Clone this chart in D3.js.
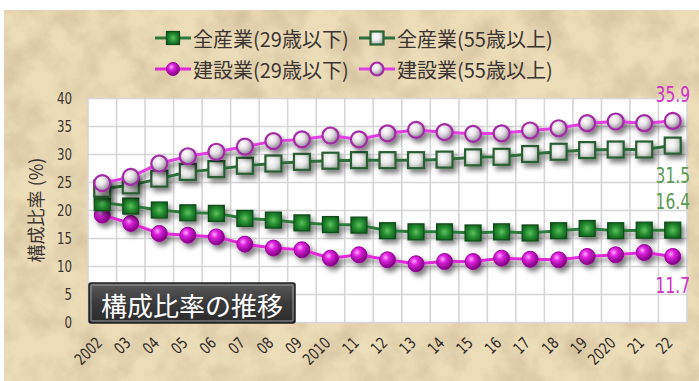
<!DOCTYPE html>
<html><head><meta charset="utf-8">
<script src="https://cdn.jsdelivr.net/npm/d3@7"></script>
<style>
html,body{margin:0;padding:0;background:#fff;}
svg{display:block;}
</style></head>
<body>
<svg id="chart" width="699" height="381"></svg>
<script>
// ---- data ----
const years = ["2002","03","04","05","06","07","08","09","2010","11","12","13","14","15","16","17","18","19","2020","21","22"];
const allInd29 = [21.3,20.7,20.0,19.5,19.4,18.5,18.2,17.7,17.4,17.3,16.3,16.1,16.1,15.9,16.1,15.9,16.3,16.7,16.3,16.4,16.4];
const allInd55 = [23.8,24.4,25.6,26.8,27.3,27.9,28.3,28.6,28.8,28.9,28.9,28.9,29.0,29.4,29.5,30.0,30.4,30.7,30.8,30.8,31.5];
const cons29   = [19.1,17.6,15.8,15.5,15.2,13.9,13.2,12.9,11.4,12.0,11.1,10.4,10.8,10.8,11.4,11.2,11.1,11.7,12.0,12.4,11.7];
const cons55   = [24.8,25.9,28.3,29.6,30.4,31.3,32.3,32.6,33.3,32.6,33.7,34.3,33.9,33.6,33.7,34.2,34.6,35.5,35.8,35.5,35.9];
const seriesNames = ["全産業(29歳以下)","全産業(55歳以上)","建設業(29歳以下)","建設業(55歳以上)"];
const yTicks = [0,5,10,15,20,25,30,35,40];
const yTitle = "構成比率 (%)";
const chartTitle = "構成比率の推移";

const svg = d3.select("#chart");
const W = 699, H = 381;
const plot = {left: 88, right: 687, top: 98, bottom: 322};
const cjk = "'Noto Sans CJK JP','Noto Sans',sans-serif";
const narrow = "'Liberation Sans Narrow','DejaVu Sans Condensed','Liberation Sans',sans-serif";

const defs = svg.append("defs");
// paper texture
const pf = defs.append("filter").attr("id","paper").attr("x",0).attr("y",0).attr("width","100%").attr("height","100%");
pf.append("feTurbulence").attr("type","fractalNoise").attr("baseFrequency","0.03").attr("numOctaves",5).attr("seed",7).attr("result","n");
pf.append("feColorMatrix").attr("in","n").attr("type","matrix")
  .attr("values","0 0 0 0 0.58  0 0 0 0 0.45  0 0 0 0 0.28  2.0 0 0 0 -0.75");
// drop shadow
const ds = defs.append("filter").attr("id","shadow").attr("x","-20%").attr("y","-20%").attr("width","140%").attr("height","160%");
ds.append("feDropShadow").attr("dx",3).attr("dy",4).attr("stdDeviation",2.4).attr("flood-color","#000").attr("flood-opacity",0.5);

function radial(id, stops, cx="38%", cy="35%", r="65%") {
  const g = defs.append("radialGradient").attr("id",id).attr("cx",cx).attr("cy",cy).attr("r",r);
  stops.forEach(s => g.append("stop").attr("offset",s[0]).attr("stop-color",s[1]));
}
radial("gMag", [["0%","#ffa8ff"],["35%","#e022e0"],["100%","#7a007a"]]);
radial("gMagL", [["0%","#ffffff"],["45%","#e6e0e6"],["100%","#8f8595"]]);
radial("gGrn", [["0%","#5fc060"],["45%","#238a30"],["100%","#0b4a16"]], "50%","50%","70%");
radial("gGrnL", [["0%","#ffffff"],["50%","#e4e6e4"],["100%","#9aa09a"]], "40%","40%","70%");
const tg = defs.append("linearGradient").attr("id","gTitle").attr("x1",0).attr("y1",0).attr("x2",0).attr("y2",1);
tg.append("stop").attr("offset","0%").attr("stop-color","#5a5a5a");
tg.append("stop").attr("offset","50%").attr("stop-color","#3a3a3a");
tg.append("stop").attr("offset","100%").attr("stop-color","#2a2a2a");

// background
svg.append("rect").attr("width",W).attr("height",H).attr("fill","#fff");
svg.append("rect").attr("x",4).attr("y",10).attr("width",W-4).attr("height",H-10).attr("fill","#ecdcb8");
svg.append("rect").attr("x",4).attr("y",10).attr("width",W-4).attr("height",H-10).attr("filter","url(#paper)").attr("opacity",0.6);

// scales
const x = d3.scaleBand().domain(years).range([plot.left, plot.right]).padding(0);
const y = d3.scaleLinear().domain([0,40]).range([plot.bottom, plot.top]);
const cx = d => x(d) + x.bandwidth()/2;

// plot area
svg.append("rect").attr("x",plot.left).attr("y",plot.top).attr("width",plot.right-plot.left).attr("height",plot.bottom-plot.top).attr("fill","#fff");
// vertical grid at band edges
const edges = years.map(d => x(d)).concat([plot.right]);
svg.append("g").selectAll("line").data(edges).join("line")
  .attr("x1",d=>d).attr("x2",d=>d).attr("y1",plot.top).attr("y2",plot.bottom)
  .attr("stroke","#d6d6d6").attr("stroke-width",1.6);
// horizontal grid
svg.append("g").attr("transform",`translate(${plot.left},0)`)
  .call(d3.axisLeft(y).tickValues(yTicks).tickSize(-(plot.right-plot.left)).tickFormat(""))
  .call(g => g.select(".domain").remove())
  .call(g => g.selectAll("line").attr("stroke","#d6d6d6").attr("stroke-width",1.6));

// y tick labels
svg.append("g").attr("transform",`translate(${plot.left},0)`)
  .call(d3.axisLeft(y).tickValues(yTicks).tickSize(0).tickPadding(16))
  .call(g => g.select(".domain").remove())
  .call(g => g.selectAll("text").attr("font-family",narrow).attr("font-size",16).attr("fill","#3a3530")
      .attr("x",0).attr("transform","translate(-16,0) scale(0.82,1)"));

// x tick labels
svg.append("g").attr("transform",`translate(0,${plot.bottom})`)
  .call(d3.axisBottom(x).tickSize(0))
  .call(g => g.select(".domain").remove())
  .call(g => g.selectAll("text")
     .attr("font-family",narrow).attr("font-size",16).attr("fill","#2f2a25")
     .attr("text-anchor","end").attr("x",0).attr("y",0).attr("dy",0)
     .attr("transform","translate(1,22) rotate(-45) scale(0.85,1)"));

// y title
svg.append("text").attr("transform","translate(43,210) rotate(-90)")
  .attr("text-anchor","middle").attr("font-family",cjk).attr("font-size",18).attr("fill","#3a3530")
  .text(yTitle);

// title box
const tb = svg.append("g");
tb.append("rect").attr("x",89).attr("y",283).attr("width",206).attr("height",40).attr("rx",2)
  .attr("fill","url(#gTitle)").attr("stroke","#222").attr("stroke-width",1.5);
tb.append("rect").attr("x",91).attr("y",285).attr("width",202).attr("height",36).attr("rx",1)
  .attr("fill","none").attr("stroke","#9a9a9a").attr("stroke-width",1);
tb.append("text").attr("x",192).attr("y",304).attr("text-anchor","middle").attr("dominant-baseline","central")
  .attr("font-family",cjk).attr("font-size",26).attr("fill","#fff").text(chartTitle);

// series definitions
const series = [
  {name: seriesNames[0], values: allInd29, line:"#2f7a3c", shape:"square", fill:"url(#gGrn)", stroke:"#0e4d1a", labOff:-28, labColor:"#5b9a55"},
  {name: seriesNames[1], values: allInd55, line:"#2f6e3c", shape:"square", fill:"url(#gGrnL)", stroke:"#2b5f34", labOff:30, labColor:"#5b9a55"},
  {name: seriesNames[2], values: cons29, line:"#e02ad8", shape:"circle", fill:"url(#gMag)", stroke:"#a000a0", labOff:29, labColor:"#d030c8"},
  {name: seriesNames[3], values: cons55, line:"#e040e0", shape:"circle", fill:"url(#gMagL)", stroke:"#a52aa5", labOff:-26, labColor:"#d030c8"}
];

function drawMarker(g, s, px, py, sz) {
  if (s.shape === "square") {
    g.append("rect").attr("x",px-sz/2).attr("y",py-sz/2).attr("width",sz).attr("height",sz)
      .attr("fill",s.fill).attr("stroke",s.stroke).attr("stroke-width",s.fill==="url(#gGrnL)"?2.2:1.2);
  } else {
    g.append("circle").attr("cx",px).attr("cy",py).attr("r",sz/2)
      .attr("fill",s.fill).attr("stroke",s.stroke).attr("stroke-width",s.fill==="url(#gMagL)"?2.2:1);
  }
}

const line = d3.line().x((d,i)=>cx(years[i])).y(d=>y(d));
const drawOrder = [2,0,1,3];
drawOrder.forEach(k => {
  const s = series[k];
  const g = svg.append("g").attr("filter","url(#shadow)");
  g.append("path").datum(s.values).attr("d",line).attr("fill","none")
    .attr("stroke",s.line).attr("stroke-width",3);
  s.values.forEach((v,i) => drawMarker(g, s, cx(years[i]), y(v), 16));
});

// end labels
series.forEach(s => {
  const v = s.values[s.values.length-1];
  svg.append("text").attr("transform",`translate(690,${y(v)+s.labOff}) scale(0.82,1)`)
    .attr("text-anchor","end").attr("dominant-baseline","central")
    .attr("font-family",narrow).attr("font-size",21).attr("fill",s.labColor)
    .text(d3.format(".1f")(v));
});

// legend
const legendPos = [[155,38],[359,38],[155,69],[359,69]];
series.forEach((s,i) => {
  const [lx,ly] = legendPos[i];
  const g = svg.append("g");
  g.append("line").attr("x1",lx).attr("x2",lx+36).attr("y1",ly).attr("y2",ly)
    .attr("stroke",s.line).attr("stroke-width",3);
  drawMarker(g, s, lx+18, ly, 13);
  g.append("text").attr("x",lx+38).attr("y",ly).attr("dominant-baseline","central")
    .attr("font-family",cjk).attr("font-size",20).attr("fill","#3a3530").text(s.name);
});
</script>
</body></html>
